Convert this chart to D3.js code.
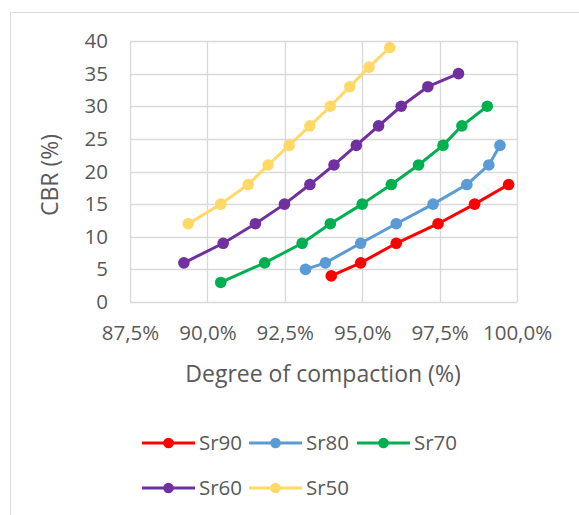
<!DOCTYPE html>
<html>
<head>
<meta charset="utf-8">
<script src="https://cdn.jsdelivr.net/npm/d3@7/dist/d3.min.js"></script>
<style>
  html, body { margin: 0; padding: 0; background: #fff; }
  svg { display: block; font-family: "Open Sans", "Liberation Sans", sans-serif; }
</style>
</head>
<body>
<svg id="chart" width="579" height="515"></svg>
<script>
// Series names and colours
const seriesNames = ["Sr90", "Sr80", "Sr70", "Sr60", "Sr50"];
const seriesColors = ["#FF0000", "#5B9BD5", "#00B050", "#7030A0", "#FFD966"];

// Degree of compaction (%) per series
const sr90X = [94.0, 94.95, 96.1, 97.45, 98.63, 99.73];
const sr80X = [93.17, 93.81, 94.95, 96.1, 97.29, 98.38, 99.09, 99.45];
const sr70X = [90.43, 91.85, 93.06, 93.97, 95.0, 95.94, 96.82, 97.61, 98.22, 99.04];
const sr60X = [89.24, 90.51, 91.55, 92.49, 93.31, 94.09, 94.81, 95.53, 96.26, 97.12, 98.11];
const sr50X = [89.38, 90.43, 91.32, 91.96, 92.64, 93.31, 93.97, 94.6, 95.22, 95.89];

// CBR (%) per series
const sr90Y = [4, 6, 9, 12, 15, 18];
const sr80Y = [5, 6, 9, 12, 15, 18, 21, 24];
const sr70Y = [3, 6, 9, 12, 15, 18, 21, 24, 27, 30];
const sr60Y = [6, 9, 12, 15, 18, 21, 24, 27, 30, 33, 35];
const sr50Y = [12, 15, 18, 21, 24, 27, 30, 33, 36, 39];

// Axis ticks
const xTicks = [87.5, 90, 92.5, 95, 97.5, 100];
const yTicks = [0, 5, 10, 15, 20, 25, 30, 35, 40];

const xsAll = [sr90X, sr80X, sr70X, sr60X, sr50X];
const ysAll = [sr90Y, sr80Y, sr70Y, sr60Y, sr50Y];
const series = seriesNames.map((name, i) => ({
  name, color: seriesColors[i],
  points: xsAll[i].map((x, j) => ({ x, y: ysAll[i][j] }))
}));

const svg = d3.select("#chart");
const textColor = "#595959";
const gridColor = "#D9D9D9";

// Outer chart frame
svg.append("rect")
  .attr("x", 10.5).attr("y", 12.5)
  .attr("width", 700).attr("height", 700)
  .attr("fill", "none").attr("stroke", gridColor).attr("stroke-width", 1);

const plot = { left: 130, right: 517, top: 41, bottom: 302 };

const x = d3.scaleLinear().domain([87.5, 100]).range([plot.left, plot.right]);
const y = d3.scaleLinear().domain([0, 40]).range([plot.bottom, plot.top]);

const locale = d3.formatLocale({ decimal: ",", thousands: ".", grouping: [3], currency: ["", "€"] });
const fmt = locale.format(".1f");

// Gridlines
const grid = svg.append("g");
grid.selectAll("line.h").data(yTicks).join("line")
  .attr("x1", plot.left).attr("x2", plot.right)
  .attr("y1", d => Math.round(y(d)) + 0.5).attr("y2", d => Math.round(y(d)) + 0.5)
  .attr("stroke", gridColor).attr("stroke-width", 1.3);
grid.selectAll("line.v").data(xTicks).join("line")
  .attr("y1", plot.top).attr("y2", plot.bottom)
  .attr("x1", d => Math.round(x(d)) + 0.5).attr("x2", d => Math.round(x(d)) + 0.5)
  .attr("stroke", gridColor).attr("stroke-width", 1.3);

// Y axis labels
const yAxis = svg.append("g")
  .attr("transform", `translate(${plot.left - 22},0)`)
  .call(d3.axisLeft(y).tickValues(yTicks).tickSize(0).tickPadding(0));
yAxis.select(".domain").remove();
yAxis.selectAll("text")
  .attr("fill", textColor).attr("font-size", 20.5)
  .attr("font-family", "'Open Sans', sans-serif");

// X axis labels
const xAxis = svg.append("g")
  .attr("transform", `translate(0,${plot.bottom + 23})`)
  .call(d3.axisBottom(x).tickValues(xTicks).tickSize(0).tickPadding(0)
    .tickFormat(d => fmt(d) + "%"));
xAxis.select(".domain").remove();
xAxis.selectAll("text")
  .attr("fill", textColor).attr("font-size", 20.5)
  .attr("font-family", "'Open Sans', sans-serif");

// Axis titles
svg.append("text")
  .attr("x", 323).attr("y", 382)
  .attr("text-anchor", "middle")
  .attr("fill", textColor).attr("font-size", 23)
  .text("Degree of compaction (%)");
svg.append("text")
  .attr("transform", "translate(58,175) rotate(-90)")
  .attr("text-anchor", "middle")
  .attr("fill", textColor).attr("font-size", 23)
  .text("CBR (%)");

// Series lines and markers
const line = d3.line().x(d => x(d.x)).y(d => y(d.y));
const sg = svg.append("g").selectAll("g").data(series).join("g");
sg.append("path")
  .attr("d", d => line(d.points))
  .attr("fill", "none").attr("stroke", d => d.color)
  .attr("stroke-width", 3).attr("stroke-linejoin", "round").attr("stroke-linecap", "round");
sg.selectAll("circle").data(d => d.points.map(p => ({ ...p, color: d.color }))).join("circle")
  .attr("cx", d => x(d.x)).attr("cy", d => y(d.y))
  .attr("r", 5.8).attr("fill", d => d.color);

// Legend
const legendPos = [
  { x: 142, y: 443 }, { x: 249, y: 443 }, { x: 357, y: 443 },
  { x: 142, y: 488 }, { x: 249, y: 488 }
];
const lg = svg.append("g").selectAll("g").data(series).join("g")
  .attr("transform", (d, i) => `translate(${legendPos[i].x},${legendPos[i].y})`);
lg.append("line")
  .attr("x1", 0).attr("x2", 53).attr("y1", 0).attr("y2", 0)
  .attr("stroke", d => d.color).attr("stroke-width", 3);
lg.append("circle").attr("cx", 26.5).attr("cy", 0).attr("r", 5.3).attr("fill", d => d.color);
lg.append("text")
  .attr("x", 57).attr("y", 0).attr("dy", "0.35em")
  .attr("fill", textColor).attr("font-size", 20.5)
  .text(d => d.name);
</script>
</body>
</html>
